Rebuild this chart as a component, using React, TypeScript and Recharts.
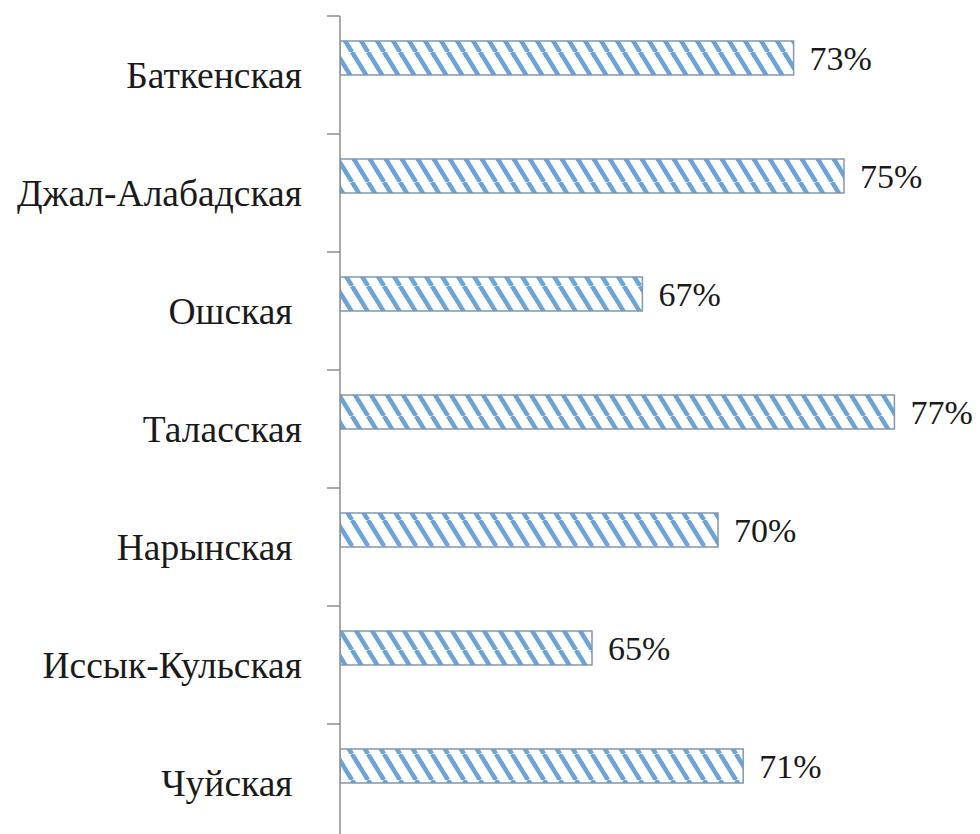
import { BarChart, Bar, XAxis, YAxis, LabelList } from "recharts";

const regions = [
  "Баткенская",
  "Джал-Алабадская",
  "Ошская ",
  "Таласская",
  "Нарынская ",
  "Иссык-Кульская",
  "Чуйская ",
];
const shares = [73, 75, 67, 77, 70, 65, 71];

const data = regions.map((name, i) => ({ name, share: shares[i], empty: 0 }));

const BAND = 118;
const SERIF = "'Liberation Serif', 'Times New Roman', serif";

const RegionTick = (props: any) => {
  const { y, payload } = props;
  const label = String(payload.value).replace(/ /g, "\u00A0");
  return (
    <g>
      <line x1={327} x2={340} y1={y - BAND / 2} y2={y - BAND / 2} stroke="#8c8c8c" strokeWidth={1.5} />
      <text x={302} y={y + 12.5} textAnchor="end" fontFamily={SERIF} fontSize={37.5} fill="#1a1a1a">
        {label}
      </text>
    </g>
  );
};

export default function App() {
  return (
    <div style={{ position: "absolute", left: 0, top: 0, width: 980, height: 834, overflow: "hidden", background: "#fff" }}>
      <BarChart
        width={980}
        height={842}
        data={data}
        layout="vertical"
        margin={{ top: 16, right: 10, bottom: 0, left: 0 }}
        barCategoryGap={25}
        barGap={0}
      >
        <defs>
          <pattern id="stripes" patternUnits="userSpaceOnUse" width={16} height={26}>
            <rect width={16} height={26} fill="#ffffff" />
            {[-16, 0, 16].map((x0) => (
              <line key={x0} x1={x0} y1={0} x2={x0 + 16} y2={26} stroke="#6aa3d8" strokeWidth={4.5} />
            ))}
          </pattern>
        </defs>
        <XAxis type="number" domain={[55, 80]} hide allowDataOverflow />
        <YAxis
          type="category"
          dataKey="name"
          width={340}
          axisLine={{ stroke: "#8c8c8c", strokeWidth: 1.5 }}
          tickLine={false}
          tick={<RegionTick />}
          interval={0}
        />
        <Bar dataKey="share" fill="url(#stripes)" stroke="#8497b0" strokeWidth={1.5} isAnimationActive={false}>
          <LabelList
            dataKey="share"
            position="right"
            offset={16}
            formatter={(v: any) => `${v}%`}
            fontFamily={SERIF}
            fontSize={34}
            fill="#1a1a1a"
          />
        </Bar>
        <Bar dataKey="empty" fill="none" isAnimationActive={false} />
      </BarChart>
    </div>
  );
}
